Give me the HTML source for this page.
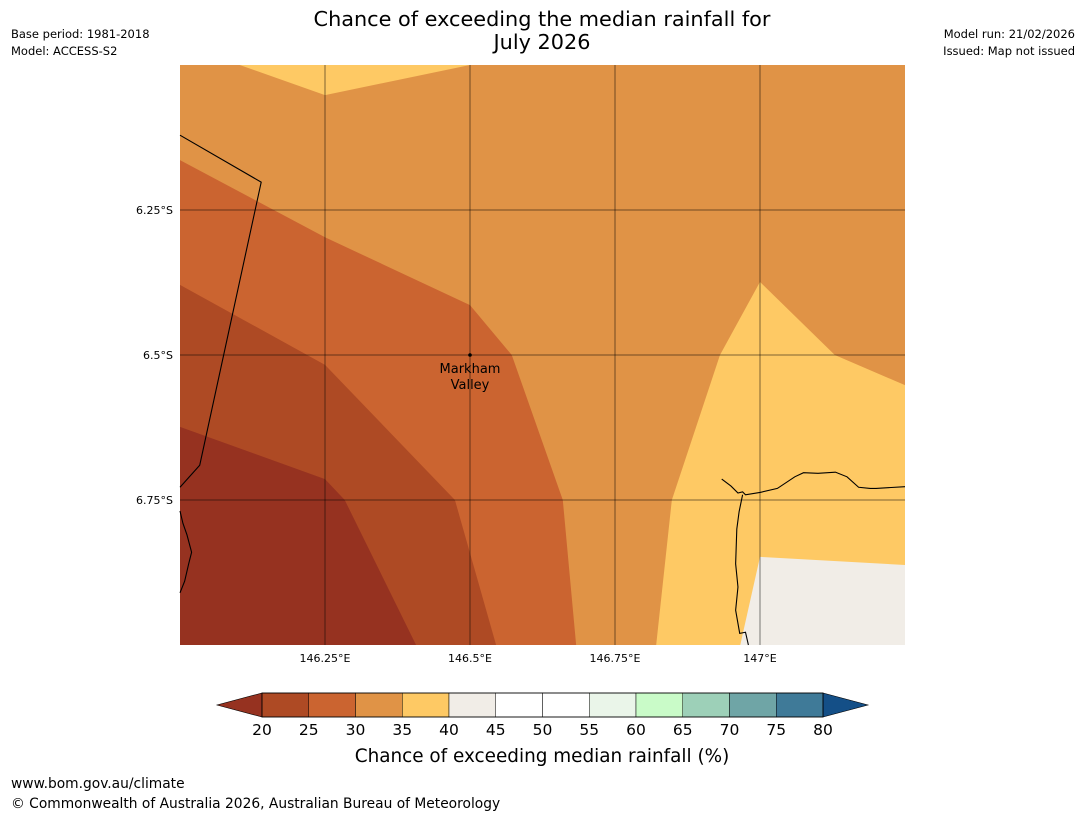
<!DOCTYPE html>
<html><head><meta charset="utf-8"><style>
body{margin:0;background:#fff;font-family:"Liberation Sans","DejaVu Sans",sans-serif;}
svg{display:block}
text{font-family:"DejaVu Sans","Liberation Sans",sans-serif;}
</style></head><body>
<svg id="s" width="1085" height="816" xmlns="http://www.w3.org/2000/svg">
<text x="542" y="26" font-size="20.8" text-anchor="middle">Chance of exceeding the median rainfall for</text>
<text x="542" y="49" font-size="20.8" text-anchor="middle">July 2026</text>
<text x="11" y="38" font-size="11.5">Base period: 1981-2018</text>
<text x="11" y="55" font-size="11.5">Model: ACCESS-S2</text>
<text x="1075" y="38" font-size="11.5" text-anchor="end">Model run: 21/02/2026</text>
<text x="1075" y="55" font-size="11.5" text-anchor="end">Issued: Map not issued</text>
<g id="map"></g>
<g id="cbar"></g>
<text x="542" y="762" font-size="18.4" text-anchor="middle">Chance of exceeding median rainfall (%)</text>
<text x="11" y="788" font-size="13.8">www.bom.gov.au/climate</text>
<text x="11" y="808" font-size="13.8">© Commonwealth of Australia 2026, Australian Bureau of Meteorology</text>
</svg>
<script>
const levels=[20,25,30,35,40,45,50,55,60,65,70,75,80];
const binColors=['#ae4a24','#cb6430','#e09346','#fec964','#f1ede7','#ffffff','#ffffff','#eaf5e9','#c9fbc8','#9dd0b8','#6fa5a6','#3f7a98'];
const lowColor='#963220', highColor='#144f87';
const lonTicks=[146.25,146.5,146.75,147];
const latTicks=[6.25,6.5,6.75];
const regionColors=['#e09346','#fec964','#fec964','#f1ede7','#cb6430','#ae4a24','#963220'];
const regions=[
 [[146,6],[147.25,6],[147.25,7],[146,7]],
 [[146.103,6],[146.25,6.052],[146.5,6]],
 [[147,6.374],[146.931,6.5],[146.848,6.75],[146.821,7],[147.25,7],[147.25,6.552],[147.129,6.5]],
 [[147,6.848],[147.25,6.862],[147.25,7],[146.966,7]],
 [[146,6.164],[146.25,6.297],[146.5,6.414],[146.572,6.5],[146.66,6.75],[146.683,7],[146,7]],
 [[146,6.379],[146.25,6.517],[146.474,6.75],[146.545,7],[146,7]],
 [[146,6.624],[146.25,6.714],[146.284,6.75],[146.407,7],[146,7]]
];
const border=[[146,6.121],[146.14,6.202],[146.034,6.69],[146,6.728]];
const coastE=[[146.934,6.714],[146.95,6.726],[146.962,6.738],[146.97,6.736],[146.975,6.741],[147,6.737],[147.03,6.73],[147.06,6.71],[147.075,6.703],[147.1,6.704],[147.13,6.702],[147.15,6.71],[147.17,6.728],[147.19,6.73],[147.2,6.73],[147.25,6.727]];
const coastS=[[146.97,6.741],[146.964,6.77],[146.96,6.8],[146.958,6.86],[146.962,6.9],[146.958,6.94],[146.965,6.98],[146.975,6.978],[146.98,7]];
const coastW=[[146,6.769],[146.005,6.79],[146.012,6.81],[146.02,6.84],[146.015,6.86],[146.008,6.89],[146,6.91]];
const town={lon:146.5,lat:6.5,name:['Markham','Valley']};
const X=lon=>180+(lon-146)*580, Y=lat=>65+(lat-6)*580;
const NS='http://www.w3.org/2000/svg';
function mk(p,t,a){const e=document.createElementNS(NS,t);for(const k in a)e.setAttribute(k,a[k]);p.appendChild(e);return e;}
const map=document.getElementById('map');
regions.forEach((r,i)=>{const e=mk(map,'polygon',{points:r.map(p=>X(p[0])+','+Y(p[1])).join(' '),fill:regionColors[i]});

});
lonTicks.forEach(l=>{const e=mk(map,'line',{x1:X(l),x2:X(l),y1:65,y2:645,stroke:'#000','stroke-opacity':0.5,'stroke-width':1});

const t=mk(map,'text',{x:X(l),y:662,'font-size':11,'text-anchor':'middle'});t.textContent=l+'°E';
});
latTicks.forEach(l=>{const e=mk(map,'line',{x1:180,x2:905,y1:Y(l),y2:Y(l),stroke:'#000','stroke-opacity':0.5,'stroke-width':1});

const t=mk(map,'text',{x:173,y:Y(l)+4,'font-size':11,'text-anchor':'end'});t.textContent=l+'°S';
});
[border,coastE,coastS,coastW].forEach((c,i)=>{const e=mk(map,'polyline',{points:c.map(p=>X(p[0])+','+Y(p[1])).join(' '),fill:'none',stroke:'#000','stroke-width':1.1});
});
const d=mk(map,'circle',{cx:X(town.lon),cy:Y(town.lat),r:1.8,fill:'#000'});

town.name.forEach((n,i)=>{const t=mk(map,'text',{x:X(town.lon),y:Y(town.lat)+18+i*16,'font-size':13,'text-anchor':'middle'});t.textContent=n;
});
const cb=document.getElementById('cbar');
const c0=262,c1=823,cy0=693,cy1=717;
const CX=v=>c0+(v-levels[0])/(levels[levels.length-1]-levels[0])*(c1-c0);
const lo=mk(cb,'polygon',{points:`${c0},${cy0} ${c0},${cy1} 217,705`,fill:lowColor,stroke:'#000','stroke-width':0.6});

const hi=mk(cb,'polygon',{points:`${c1},${cy0} ${c1},${cy1} 868,705`,fill:highColor,stroke:'#000','stroke-width':0.6});

binColors.forEach((c,i)=>{const e=mk(cb,'rect',{x:CX(levels[i]),y:cy0,width:CX(levels[i+1])-CX(levels[i]),height:cy1-cy0,fill:c,stroke:'#000','stroke-width':0.5});
});
const fr=mk(cb,'rect',{x:c0,y:cy0,width:c1-c0,height:cy1-cy0,fill:'none',stroke:'#000','stroke-width':0.8});

levels.forEach(v=>{const t=mk(cb,'text',{x:CX(v),y:735,'font-size':15.5,'text-anchor':'middle'});t.textContent=v;
});
</script>
</body></html>
